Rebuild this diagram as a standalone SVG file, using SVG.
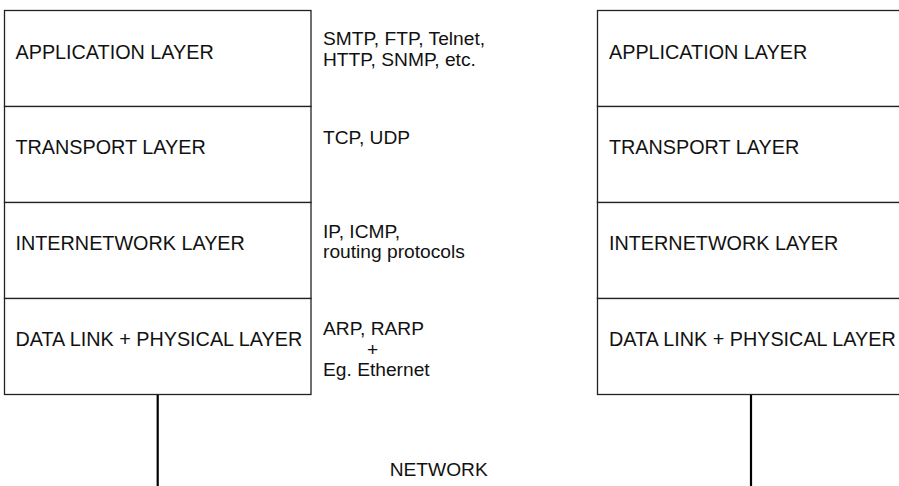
<svg xmlns="http://www.w3.org/2000/svg" width="899" height="486" viewBox="0 0 899 486">
<style>
.layer{fill:#fff;stroke:#222;stroke-width:1.3}
.t{font-family:"Liberation Sans",Arial,sans-serif;font-size:19.2px;fill:#111}
.lbl{font-size:19.8px}
.link{stroke:#000;stroke-width:2.2;fill:none}
</style>
<rect width="899" height="486" fill="#fff"/>
<g id="host-left">
<g id="left-app"><rect class="layer" x="4.5" y="10.5" width="306.5" height="96"/><text class="t lbl" x="15.5" y="59">APPLICATION LAYER</text></g>
<g id="left-transport"><rect class="layer" x="4.5" y="106.5" width="306.5" height="96"/><text class="t lbl" x="15.5" y="154">TRANSPORT LAYER</text></g>
<g id="left-internet"><rect class="layer" x="4.5" y="202.5" width="306.5" height="96"/><text class="t lbl" x="15.5" y="250">INTERNETWORK LAYER</text></g>
<g id="left-datalink"><rect class="layer" x="4.5" y="298.5" width="306.5" height="96"/><text class="t lbl" x="15.5" y="346">DATA LINK + PHYSICAL LAYER</text></g>
</g>
<g id="host-right">
<g id="right-app"><rect class="layer" x="597.5" y="10.5" width="306.5" height="96"/><text class="t lbl" x="609" y="59">APPLICATION LAYER</text></g>
<g id="right-transport"><rect class="layer" x="597.5" y="106.5" width="306.5" height="96"/><text class="t lbl" x="609" y="154">TRANSPORT LAYER</text></g>
<g id="right-internet"><rect class="layer" x="597.5" y="202.5" width="306.5" height="96"/><text class="t lbl" x="609" y="250">INTERNETWORK LAYER</text></g>
<g id="right-datalink"><rect class="layer" x="597.5" y="298.5" width="306.5" height="96"/><text class="t lbl" x="609" y="346">DATA LINK + PHYSICAL LAYER</text></g>
</g>
<g id="protocols">
<text class="t" x="323" y="45">SMTP, FTP, Telnet,</text>
<text class="t" x="323" y="66">HTTP, SNMP, etc.</text>
<text class="t" x="323" y="144">TCP, UDP</text>
<text class="t" x="323" y="237.5">IP, ICMP,</text>
<text class="t" x="323" y="258">routing protocols</text>
<text class="t" x="323" y="335">ARP, RARP</text>
<text class="t" x="372.7" y="355.5" text-anchor="middle">+</text>
<text class="t" x="323" y="375.5">Eg. Ethernet</text>
</g>
<g id="network">
<text class="t" x="438.7" y="476" text-anchor="middle">NETWORK</text>
</g>
<g id="connectors">
<line class="link" x1="157.7" y1="395" x2="157.7" y2="486"/>
<line class="link" x1="751" y1="395" x2="751" y2="486"/>
</g>
</svg>
